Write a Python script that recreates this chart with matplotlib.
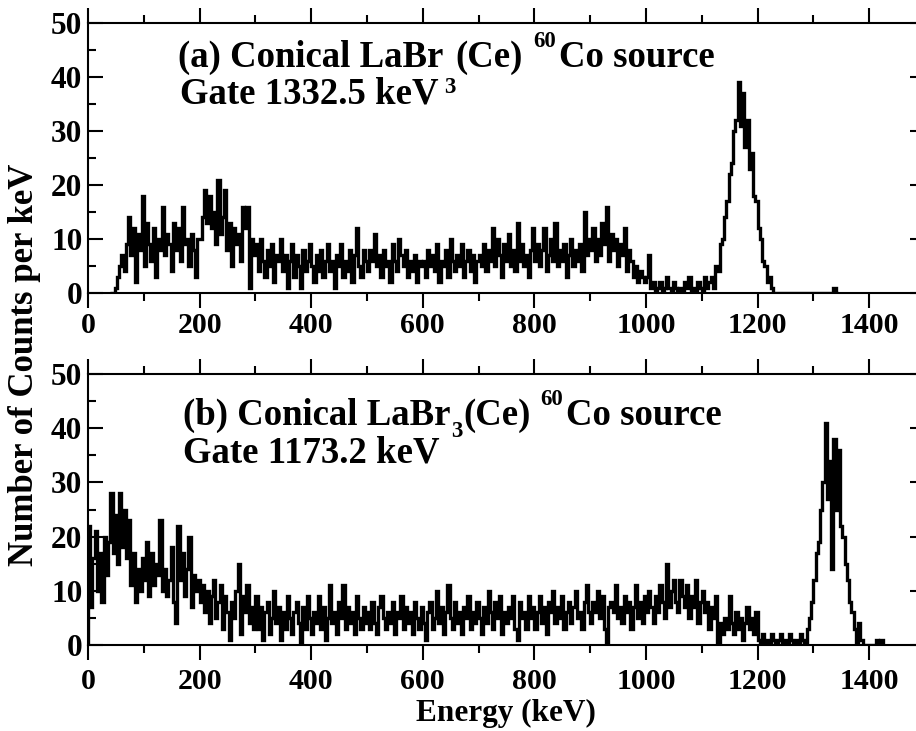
import numpy as np
import matplotlib
matplotlib.use("Agg")
import matplotlib.pyplot as plt
from matplotlib.ticker import MultipleLocator

# counts per keV, 4 keV bins
bin_w = 4

# (a) gate 1332.5 keV, first bin starts at 40 keV
a_040 = [0, 0, 1, 3, 5, 7, 4, 9, 14, 7, 12, 2, 11, 8, 18]
a_100 = [5, 13, 9, 6, 12, 3, 10, 8, 16, 7, 11, 9, 4, 13, 8, 12, 6, 16, 9, 10, 5, 11, 8, 3, 10]
a_200 = [10, 14, 19, 13, 18, 12, 15, 9, 21, 11, 14, 19, 8, 13, 5, 12, 9, 11, 6, 16, 12, 16, 1, 10, 7]
a_300 = [9, 4, 10, 6, 3, 8, 5, 9, 2, 7, 6, 10, 4, 7, 1, 6, 9, 3, 7, 5, 1, 8, 4, 6, 9]
a_400 = [5, 2, 7, 4, 8, 3, 6, 9, 4, 6, 1, 7, 5, 9, 3, 6, 4, 8, 2, 7, 12, 5, 3, 8, 6]
a_500 = [4, 8, 6, 11, 5, 7, 3, 8, 5, 6, 2, 9, 6, 4, 10, 7, 5, 8, 3, 6, 4, 7, 2, 6, 5]
a_600 = [6, 3, 8, 5, 7, 4, 9, 2, 6, 5, 8, 3, 10, 6, 4, 7, 5, 9, 3, 6, 8, 4, 7, 2, 6]
a_700 = [7, 5, 9, 4, 8, 6, 12, 5, 10, 7, 3, 9, 6, 11, 5, 8, 4, 13, 6, 9, 5, 7, 3, 8, 12]
a_800 = [6, 9, 5, 8, 12, 4, 7, 10, 6, 13, 5, 8, 6, 9, 3, 7, 10, 5, 8, 6, 9, 4, 15, 7, 10]
a_900 = [8, 12, 6, 10, 7, 13, 9, 16, 6, 11, 8, 10, 5, 9, 7, 12, 4, 8, 6, 3, 5, 2, 4, 3, 2]
a_1000 = [3, 7, 1, 2, 0, 1, 2, 0, 1, 3, 1, 0, 2, 1, 0, 1, 0, 2, 1, 3, 0, 1, 0, 2, 1]
a_1100 = [0, 3, 1, 2, 3, 1, 5, 4, 9, 10, 14, 17, 22, 24, 30, 32, 39, 31, 37, 27, 32, 23, 26, 18, 17]
a_1200 = [12, 10, 6, 5, 2, 3, 1, 0, 0, 0, 0, 0, 0, 0, 0, 0, 0, 0, 0, 0, 0, 0, 0, 0, 0]
a_1300 = [0, 0, 0, 0, 0, 0, 0, 0, 0, 1, 0]

# (b) gate 1173.2 keV, first bin starts at 0 keV
b_000 = [22, 7, 16, 21, 10, 17, 8, 20, 13, 19, 28, 17, 24, 15, 28, 18, 25, 16, 23, 11, 17, 8, 14, 10, 16]
b_100 = [12, 19, 9, 17, 11, 15, 13, 23, 10, 14, 9, 12, 18, 8, 4, 22, 12, 17, 9, 14, 20, 7, 13, 10, 12]
b_200 = [8, 11, 6, 10, 4, 9, 12, 5, 8, 11, 3, 9, 6, 1, 8, 5, 10, 15, 2, 9, 6, 11, 4, 7, 3]
b_300 = [9, 3, 7, 1, 6, 8, 2, 5, 10, 4, 7, 1, 6, 3, 9, 5, 2, 6, 8, 4, 0, 7, 3, 9, 5]
b_400 = [2, 6, 4, 9, 3, 7, 1, 5, 11, 4, 6, 2, 8, 5, 11, 3, 7, 4, 6, 2, 9, 5, 3, 7, 4]
b_500 = [6, 3, 8, 4, 2, 7, 9, 5, 3, 6, 4, 8, 2, 6, 5, 9, 3, 7, 4, 6, 2, 8, 5, 3, 7]
b_600 = [4, 1, 6, 8, 3, 5, 10, 4, 7, 2, 6, 11, 5, 3, 8, 4, 6, 2, 7, 5, 9, 3, 6, 4, 8]
b_700 = [5, 2, 7, 4, 10, 6, 3, 8, 5, 9, 2, 6, 4, 7, 5, 9, 3, 1, 8, 5, 6, 3, 9, 5, 7]
b_800 = [3, 6, 9, 4, 7, 2, 8, 6, 10, 4, 7, 5, 9, 3, 6, 8, 4, 7, 10, 5, 6, 3, 8, 11, 6]
b_900 = [4, 8, 6, 10, 5, 9, 3, 0, 7, 8, 6, 11, 5, 7, 4, 9, 6, 8, 3, 7, 11, 5, 8, 4, 9]
b_1000 = [6, 10, 7, 4, 9, 6, 11, 8, 5, 15, 7, 10, 12, 8, 6, 12, 9, 7, 11, 5, 9, 7, 12, 4, 8]
b_1100 = [10, 6, 8, 3, 7, 5, 9, 0, 4, 2, 5, 3, 9, 4, 2, 6, 3, 5, 1, 4, 7, 3, 5, 2, 6]
b_1200 = [1, 0, 2, 0, 1, 0, 2, 1, 0, 1, 2, 0, 1, 0, 2, 1, 0, 1, 0, 2, 1, 0, 3, 5, 8]
b_1300 = [12, 17, 19, 25, 30, 41, 27, 34, 14, 38, 25, 36, 22, 20, 15, 12, 8, 6, 3, 0, 4, 1, 0, 0, 0]
b_1400 = [0, 0, 0, 1, 0, 1]

counts_a = (a_040 + a_100 + a_200 + a_300 + a_400 + a_500 + a_600 + a_700
            + a_800 + a_900 + a_1000 + a_1100 + a_1200 + a_1300)
counts_b = (b_000 + b_100 + b_200 + b_300 + b_400 + b_500 + b_600 + b_700
            + b_800 + b_900 + b_1000 + b_1100 + b_1200 + b_1300 + b_1400)
start_a = 40
start_b = 0

gates = ["Gate 1332.5 keV", "Gate 1173.2 keV"]
tags = ["(a)", "(b)"]

W, H = 916, 731
FONT = "Liberation Serif"
plt.rcParams["font.family"] = FONT
plt.rcParams["font.weight"] = "bold"

fig = plt.figure(figsize=(W / 100, H / 100), dpi=100)

def px_axes(left, top, right, bottom):
    return fig.add_axes([left / W, 1 - bottom / H, (right - left) / W, (bottom - top) / H])

ax_a = px_axes(88, 23, 925, 293)
ax_b = px_axes(88, 374, 925, 645)

for ax, counts, start, xpad in [(ax_a, counts_a, start_a, 3), (ax_b, counts_b, start_b, 6)]:
    edges = start + bin_w * np.arange(len(counts) + 1)
    ax.stairs(counts, edges, color="black", lw=2.4)
    ax.set_xlim(0, 1500)
    ax.set_ylim(0, 50)
    ax.xaxis.set_major_locator(MultipleLocator(200))
    ax.xaxis.set_minor_locator(MultipleLocator(100))
    ax.yaxis.set_major_locator(MultipleLocator(10))
    ax.yaxis.set_minor_locator(MultipleLocator(5))
    ax.tick_params(axis="x", which="both", direction="out", top=True, bottom=True,
                   labelsize=21.5, pad=xpad)
    ax.tick_params(axis="y", which="both", direction="in", left=True, right=True,
                   labelsize=22.5, pad=4)
    ax.tick_params(which="major", length=10.5, width=1.5)
    ax.tick_params(which="minor", length=5.5, width=1.5)
    for lab in ax.get_xticklabels() + ax.get_yticklabels():
        lab.set_fontweight("bold")
    for sp in ax.spines.values():
        sp.set_linewidth(1.5)

renderer = fig.canvas.get_renderer()

def put_pieces(x0, y0, pieces):
    # pieces: (text, size, baseline shift in px (down positive), gap before in px)
    x = x0
    for s, size, dy, gap in pieces:
        x += gap
        t = fig.text(x / W, 1 - (y0 + dy) / H, s, fontsize=size, fontweight="bold",
                     ha="left", va="baseline")
        bb = t.get_window_extent(renderer=renderer)
        x = bb.x1

big, small = 26.5, 16.5
put_pieces(178, 67, [(tags[0] + " Conical LaBr", big, 0, 0), ("3", small, 26, 1),
                     ("(Ce)", big, 0, 0), ("60", small, -20, 10), ("Co source", big, 0, 3)])
fig.text(180 / W, 1 - 104 / H, gates[0], fontsize=big, fontweight="bold", va="baseline")

put_pieces(183, 425, [(tags[1] + " Conical LaBr", big, 0, 0), ("3", small, 12, 1),
                      ("(Ce)", big, 0, 0), ("60", small, -20, 10), ("Co source", big, 0, 3)])
fig.text(183 / W, 1 - 463 / H, gates[1], fontsize=big, fontweight="bold", va="baseline")

fig.text(25 / W, 1 - 365 / H, "Number of Counts per keV", rotation=90, fontsize=25,
         fontweight="bold", ha="center", va="center")
fig.text(506 / W, 1 - 721 / H, "Energy (keV)", fontsize=22.5, fontweight="bold",
         ha="center", va="baseline")

fig.savefig("out.png", dpi=100)
